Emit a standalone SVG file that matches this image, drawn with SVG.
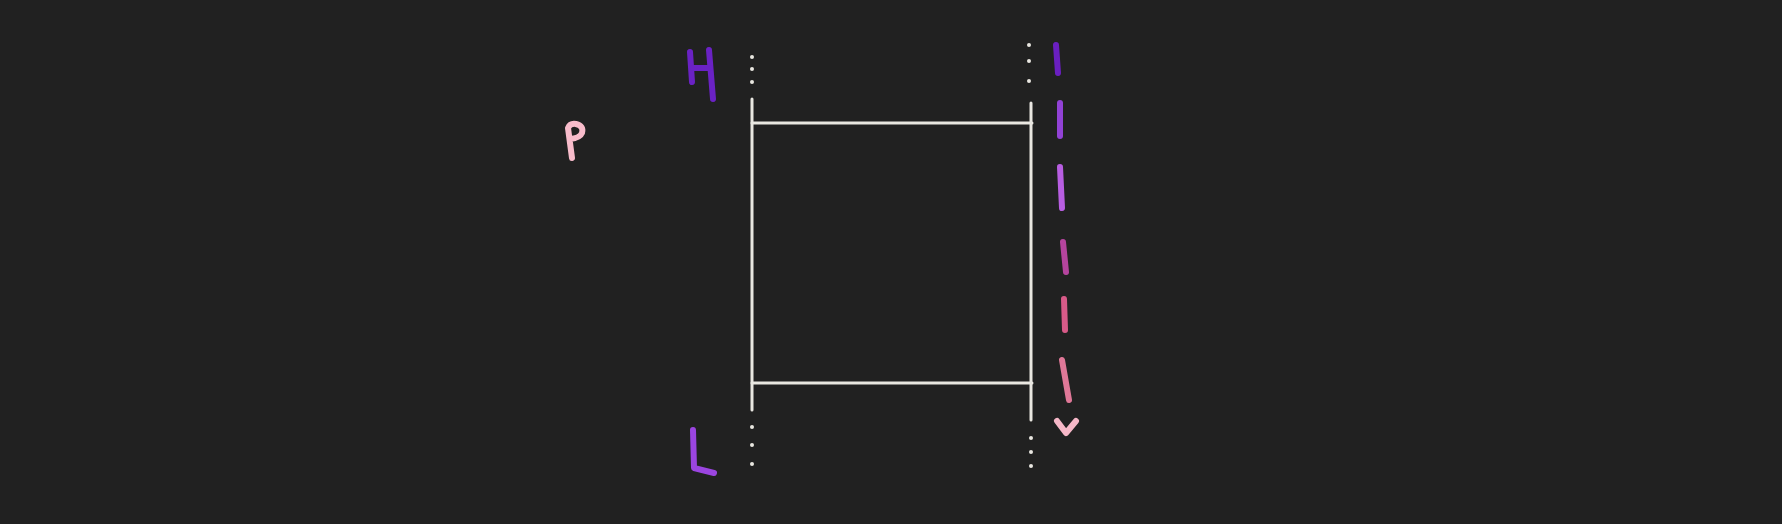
<svg xmlns="http://www.w3.org/2000/svg" width="1782" height="524" viewBox="0 0 1782 524">
<style>
.ln{stroke:#e9e7e1;stroke-width:3;fill:none;stroke-linecap:round}
.dot{fill:#e9e7e1}
.hand{fill:none;stroke-width:6;stroke-linecap:round;stroke-linejoin:round}
</style>
<rect width="1782" height="524" fill="#212121"/>
<g id="connectors">
<line class="ln" x1="752" y1="99" x2="752" y2="410"/>
<line class="ln" x1="1031" y1="103" x2="1031" y2="420"/>
<line class="ln" x1="752" y1="123" x2="1032" y2="123"/>
<line class="ln" x1="752" y1="383" x2="1032" y2="383"/>
<g class="dot">
<circle cx="752" cy="57" r="2"/><circle cx="752" cy="69" r="2"/><circle cx="752" cy="82" r="2"/>
<circle cx="752" cy="427" r="2"/><circle cx="752" cy="445" r="2"/><circle cx="752" cy="464" r="2"/>
<circle cx="1029" cy="45" r="2"/><circle cx="1029" cy="61" r="2"/><circle cx="1029" cy="81" r="2"/>
<circle cx="1031" cy="438" r="2"/><circle cx="1031" cy="452" r="2"/><circle cx="1031" cy="466" r="2"/>
</g>
</g>
<g id="arrow" class="hand">
<line x1="1056" y1="45" x2="1058" y2="73" stroke="#6a1fc0"/>
<line x1="1060" y1="103" x2="1060" y2="136" stroke="#9242d6"/>
<line x1="1060" y1="167" x2="1062" y2="208" stroke="#b85ee2"/>
<line x1="1063" y1="242" x2="1066" y2="272" stroke="#b5449e"/>
<line x1="1064" y1="299" x2="1065" y2="330" stroke="#d85a88"/>
<line x1="1062" y1="360" x2="1069" y2="400" stroke="#e07898"/>
<polyline points="1057,421 1066,433 1076,421" stroke="#f6b8c8"/>
</g>
<g id="label-H" class="hand" stroke="#6a22c4">
<line x1="690" y1="52" x2="692" y2="82"/>
<line x1="709" y1="50" x2="713" y2="99"/>
<line x1="693" y1="68" x2="710" y2="68"/>
</g>
<g id="label-L" class="hand" stroke="#9b45e0">
<polyline points="693,430 694,468 714,473"/>
</g>
<g id="label-P" class="hand" stroke="#f8bccb">
<path d="M572,158 L568,128 Q570,123 576,124 Q584,126 582,133 Q580,138 570,139"/>
</g>
</svg>
